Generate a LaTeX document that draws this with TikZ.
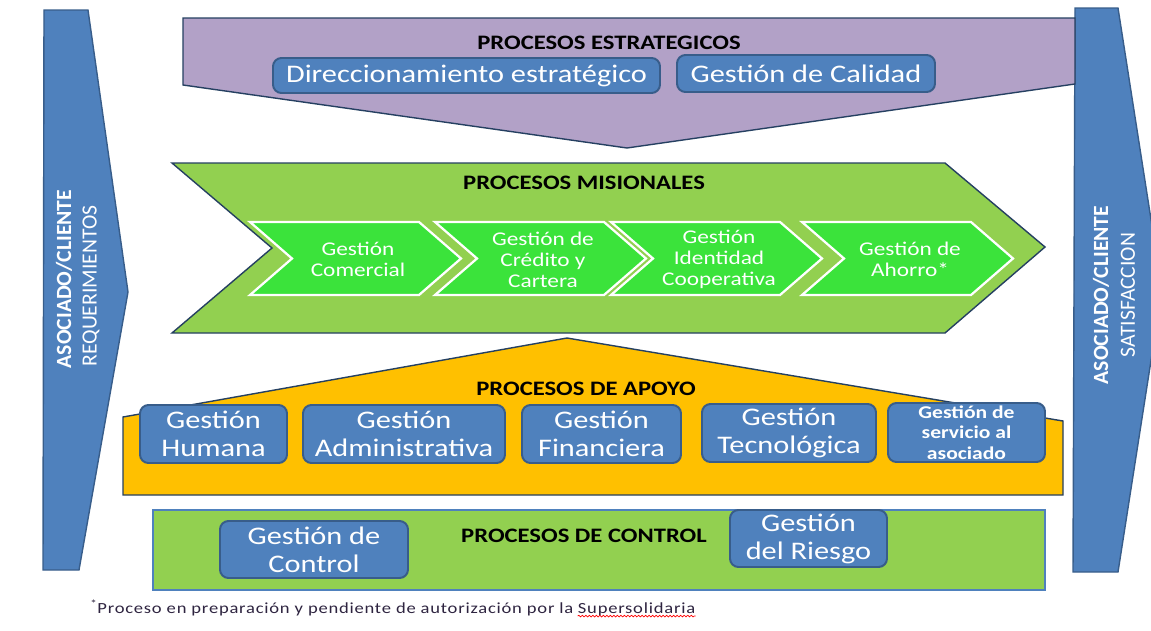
\documentclass[tikz,border=0pt]{standalone}
\usepackage{fontspec}
\setmainfont[FakeStretch=1.2]{Carlito}
\newfontfamily\sidefont{Carlito}
\newfontfamily\footfont[FakeStretch=1.2, LetterSpace=5]{Carlito}
\usetikzlibrary{positioning,decorations.pathmorphing}

\definecolor{boxblue}{HTML}{4F81BD}
\definecolor{boxedge}{HTML}{385D8A}
\definecolor{navy}{HTML}{254061}
\definecolor{lila}{HTML}{B2A1C7}
\definecolor{leaf}{HTML}{92D050}
\definecolor{lime}{HTML}{3BE33B}
\definecolor{amber}{HTML}{FFC000}
\definecolor{footink}{HTML}{2E2440}

\tikzset{
  band/.style={draw=navy, line width=1pt},
  gbox/.style={draw=boxedge, fill=boxblue, rounded corners=6pt, line width=1.4pt,
    text=white, align=center, inner sep=0pt,
    font=\fontsize{18}{20}\selectfont},
  hdr/.style={font=\fontsize{14.6}{16}\selectfont\bfseries, text=black, inner sep=0pt},
  chev/.style={draw=white, fill=lime, line width=1.6pt},
  chevtxt/.style={text=white, align=center, inner sep=0pt,
    font=\fontsize{13.8}{15}\selectfont},
  sidetxt/.style={rotate=90, text=white, inner sep=0pt,
    font=\sidefont\fontsize{15.4}{17}\selectfont}
}

\begin{document}
\begin{tikzpicture}[x=0.025cm, y=-0.025cm]

  \def\px{0.025cm}
  \useasboundingbox (0,0) rectangle (1151,631);

  % Side bars (asociado / cliente)
  \fill[boxblue, draw=boxedge, line width=1pt] (44,10) -- (88,10) -- (128,292)
    -- (79,570) -- (43,570) -- cycle;
  \fill[boxblue, draw=boxedge, line width=1pt] (1075,8) -- (1118,8) -- (1162,290)
    -- (1118,572) -- (1073,572) -- cycle;

  \node[sidetxt, font=\sidefont\fontsize{15.4}{17}\selectfont\bfseries] (reqa) at (64,279) {ASOCIADO/CLIENTE};
  \node[sidetxt] (reqb) at (91,286) {REQUERIMIENTOS};
  \node[sidetxt, font=\sidefont\fontsize{15.4}{17}\selectfont\bfseries] (sata) at (1101,295) {ASOCIADO/CLIENTE};
  \node[sidetxt] (satb) at (1128,295) {SATISFACCION};

  % Procesos estrategicos
  \fill[lila, band] (183,18) -- (1075,18) -- (1075,84) -- (627,148) -- (183,85) -- cycle;
  \node[hdr] (estrat) at (609,43) {PROCESOS ESTRATEGICOS};
  \node[gbox, minimum width=387*\px, minimum height=35*\px] (direcc) at (466.5,75.5) {Direccionamiento estratégico};
  \node[gbox, minimum width=258*\px, minimum height=37*\px] (calidad) at (806,73.5) {Gestión de Calidad};

  % Procesos misionales
  \fill[leaf, band] (172,163) -- (945,163) -- (1045,247) -- (945,333) -- (172,333)
    -- (272,248) -- cycle;
  \node[hdr] (misional) at (584,183) {PROCESOS MISIONALES};

  \foreach \s/\name/\txt in {250/comercial/{Gestión\\Comercial},
                             435/credito/{Gestión de\\Crédito y\\Cartera},
                             611/identidad/{Gestión\\Identidad\\Cooperativa},
                             802/ahorro/{Gestión de\\Ahorro*}}{
    \filldraw[chev] (\s,222) -- (\s+169,222) -- (\s+211,258.5) -- (\s+169,295)
      -- (\s,295) -- (\s+42,258.5) -- cycle;
    \node[chevtxt] (\name) at (\s+108,259.5) {\txt};
  }

  % Procesos de apoyo
  \fill[amber, band] (123,417) -- (567,338) -- (1063,421) -- (1063,495) -- (123,495) -- cycle;
  \node[hdr] (apoyo) at (586,389) {PROCESOS DE APOYO};
  \node[gbox, minimum width=147*\px, minimum height=58*\px] (humana) at (213.5,434) {Gestión\\Humana};
  \node[gbox, minimum width=202*\px, minimum height=58*\px] (admin) at (404,434) {Gestión\\Administrativa};
  \node[gbox, minimum width=159*\px, minimum height=58*\px] (financ) at (601.5,434) {Gestión\\Financiera};
  \node[gbox, minimum width=174*\px, minimum height=58*\px] (tecno) at (789,433) {Gestión\\Tecnológica};
  \node[gbox, minimum width=157*\px, minimum height=59*\px,
    font=\fontsize{12.8}{14.5}\selectfont\bfseries] (servicio) at (966.5,432.5) {Gestión de\\servicio al\\asociado};

  % Procesos de control
  \fill[leaf, draw=boxblue, line width=1pt] (153,510) rectangle (1045,590);
  \node[hdr] (controlhdr) at (584,536) {PROCESOS DE CONTROL};
  \node[gbox, minimum width=188*\px, minimum height=57*\px] (control) at (314,549.5) {Gestión de\\Control};
  \node[gbox, minimum width=157*\px, minimum height=57*\px] (riesgo) at (808.5,538.5) {Gestión\\del Riesgo};

  % Nota al pie
  \node[anchor=base west, inner sep=0pt, text=footink, font=\footfont\fontsize{11}{12}\selectfont]
    (foot) at (90,613) {\textsuperscript{*}Proceso en preparación y pendiente de autorización por la};
  \node[anchor=base west, inner sep=0pt, text=footink, font=\footfont\fontsize{11}{12}\selectfont]
    (supersol) at ([xshift=2.8pt]foot.base east) {Supersolidaria};
  \draw[red, line width=0.5pt, decorate, decoration={snake, amplitude=0.6pt, segment length=2.5pt}]
    ([yshift=-2.2pt]supersol.base west) -- ([yshift=-2.2pt]supersol.base east);

\end{tikzpicture}
\end{document}
